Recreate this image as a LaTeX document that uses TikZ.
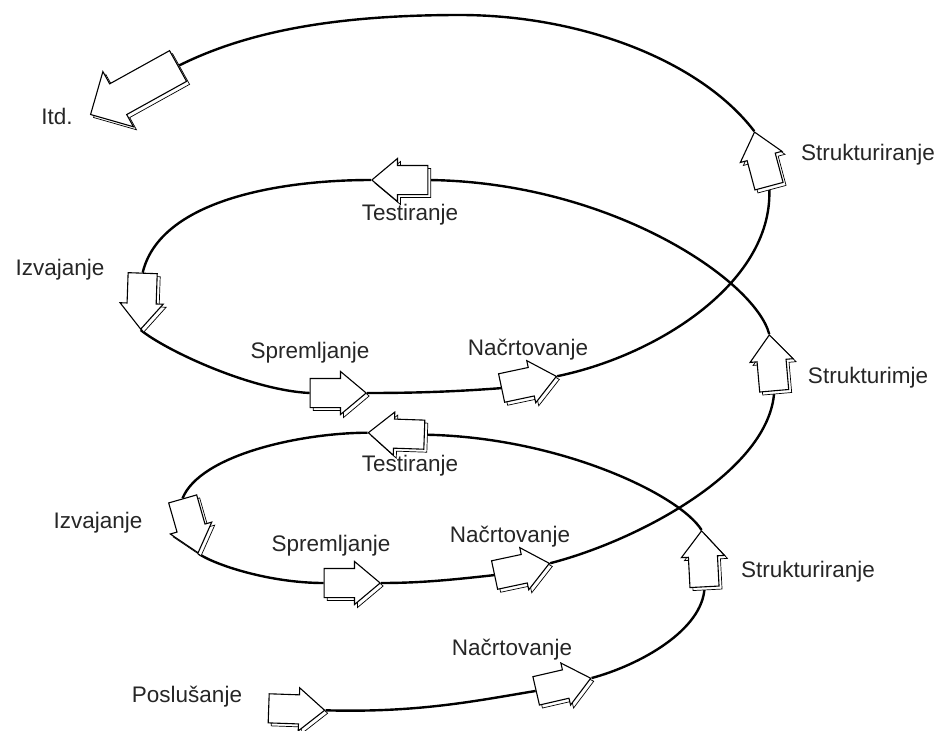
\documentclass[tikz,border=0pt]{standalone}
\usepackage{fontspec}
\setmainfont{Liberation Sans}
\usetikzlibrary{shapes.arrows,shadows}
\pgfdeclarelayer{background}
\pgfsetlayers{background,main}
\begin{document}
\begin{tikzpicture}[x=1pt,y=-1pt,
  lbl/.style={font=\fontsize{22.5}{26}\selectfont, text=black!85, inner sep=0pt},
  blk/.style={single arrow, draw=black, fill=white, line width=1.1pt,
    minimum height=56pt, inner xsep=0pt, inner ysep=14pt,
    single arrow head extend=7pt, single arrow tip angle=80,
    copy shadow={shadow xshift=3pt,shadow yshift=-3pt,draw=black,fill=white,line width=0.7pt}},
  bigblk/.style={blk, minimum height=100pt, inner ysep=17pt, single arrow head extend=14pt, single arrow tip angle=90},
  spiral/.style={line width=2.4pt, black}
]
\useasboundingbox (0,0) rectangle (948,731);

% block arrows (nodes)
\node[blk, rotate=-2]  (a1)  at (288,709) {};
\node[blk, rotate=13]  (a2)  at (555,686.5) {};
\node[blk, rotate=93]  (a3)  at (703.5,567.5) {};
\node[blk, rotate=178] (a4)  at (405,434) {};
\node[blk, rotate=-74] (a5)  at (188,517.5) {};
\node[blk, rotate=0]   (a6)  at (343.5,583) {};
\node[blk, rotate=12]  (a7)  at (513.5,571) {};
\node[blk, rotate=95]  (a8)  at (772.5,371.5) {};
\node[blk, rotate=180] (a9)  at (408.5,180) {};
\node[blk, rotate=-92] (a10) at (142,292.5) {};
\node[blk, rotate=0]   (a11) at (329.5,393) {};
\node[blk, rotate=12]  (a12) at (520.5,384) {};
\node[blk, rotate=105] (a13) at (764,167.5) {};
\node[bigblk, rotate=209] (a14) at (142,86) {};

% spiral connectors
\begin{pgfonlayer}{background}
\draw[spiral] (a1.tip) .. controls (420,713) and (480,700) .. (a2.tail);
\draw[spiral] (a2.tip) .. controls (640,665) and (703,630) .. (a3.tail);
\draw[spiral] (a3.tip) .. controls (680,495) and (560,437) .. (a4.tail);
\draw[spiral] (a4.tip) .. controls (300,433) and (200,455) .. (a5.tail);
\draw[spiral] (a5.tip) .. controls (215,565) and (270,583) .. (a6.tail);
\draw[spiral] (a6.tip) .. controls (420,583) and (450,580) .. (a7.tail);
\draw[spiral] (a7.tip) .. controls (640,540) and (770,470) .. (a8.tail);
\draw[spiral] (a8.tip) .. controls (755,280) and (610,182) .. (a9.tail);
\draw[spiral] (a9.tip) .. controls (280,180) and (160,200) .. (a10.tail);
\draw[spiral] (a10.tip) .. controls (165,350) and (250,390) .. (a11.tail);
\draw[spiral] (a11.tip) .. controls (410,393) and (450,392) .. (a12.tail);
\draw[spiral] (a12.tip) .. controls (660,355) and (775,280) .. (a13.tail);
\coordinate (top) at (460,15);
\draw[spiral] (a13.tip) .. controls (700,60) and (580,15) .. (top)
                        .. controls (340,15) and (250,30) .. (a14.tail);
\end{pgfonlayer}

% labels
\node[lbl] (l1)  at (57,116)  {Itd.};
\node[lbl] (l2)  at (868,155) {Strukturiranje};
\node[lbl] (l3)  at (410,215) {Testiranje};
\node[lbl] (l4)  at (60,270)  {Izvajanje};
\node[lbl] (l5)  at (310,353) {Spremljanje};
\node[lbl] (l6)  at (528,350) {Načrtovanje};
\node[lbl] (l7)  at (868,378) {Strukturimje};
\node[lbl] (l8)  at (410,466) {Testiranje};
\node[lbl] (l9)  at (98,523)  {Izvajanje};
\node[lbl] (l10) at (331,546) {Spremljanje};
\node[lbl] (l11) at (510,537) {Načrtovanje};
\node[lbl] (l12) at (808,572) {Strukturiranje};
\node[lbl] (l13) at (512,650) {Načrtovanje};
\node[lbl] (l14) at (187,697) {Poslušanje};
\end{tikzpicture}
\end{document}
